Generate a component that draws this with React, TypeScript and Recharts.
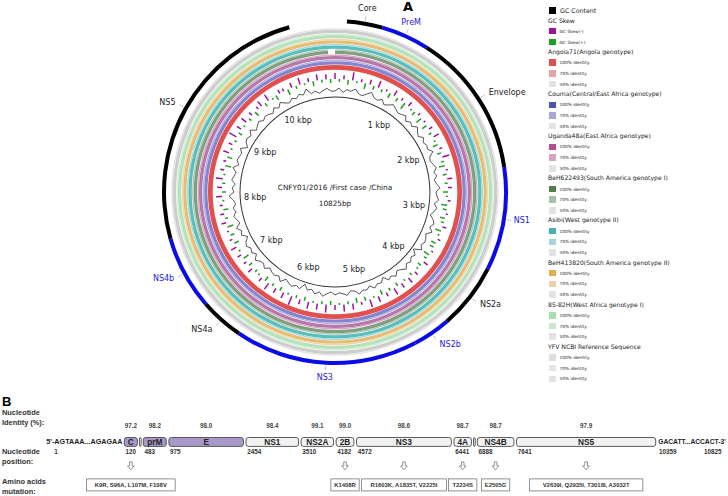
import React from "react";
import {
  PieChart,
  Pie,
  Cell,
  RadarChart,
  Radar,
  PolarAngleAxis,
  PolarRadiusAxis,
  BarChart,
  Bar,
  XAxis,
  YAxis,
} from "recharts";

// ---------- panel A data ----------
const GENOME_LEN = 10825;
const strainName = "CNFY01/2016 /First case /China";

const ringGenes = ["Core", "PreM", "Envelope", "NS1", "NS2a", "NS2b", "NS3", "NS4a", "NS4b", "NS5"];
const ringStarts = [120, 483, 975, 2454, 3510, 4182, 4572, 6441, 6888, 7641];
const ringEnd = 10359;
const rulerKbp = [1, 2, 3, 4, 5, 6, 7, 8, 9, 10];

const genomes = [
  "Angola71(Angola genotype)",
  "Couma(Central/East Africa genotype)",
  "Uganda48a(East Africa genotype)",
  "BeH622493(South America genotype I)",
  "Asibi(West genotype II)",
  "BeH413820(South America genotype II)",
  "85-82H(West Africa genotype I)",
  "YFV NCBI Reference Sequence",
];
const identityLevels = ["100% identity", "70% identity", "50% identity"];
// short window without a hit at the top of the BeH622493 ring
const beh622Gap = 10740;

// GC content deviation per window (drawn around a baseline)
const gcContent = [
  2, 5, 1, 4, 3, 6, 2, 1, 4, 7, 3, 2, 5, 1, 3, 6, 4, 2, 3, 5,
  1, 4, 2, 6, 3, 1, 5, 2, 4, 3, 7, 2, 1, 3, 5, 2, 4, 1, 3, 6,
  2, 3, 5, 1, 4, 2, -1, 3, 5, 2, 6, 1, 3, 4, 2, 5, -2, 3, 1, 4,
  2, 6, 3, 1, 5, 2, 4, -1, 3, 2, 5, 1, 4, 3, 6, 2, 1, 5, 3, 2,
  4, 1, 3, 6, 2, 5, 1, 3, -2, 4, 2, 5, 3, 1, 6, 2, 4, 3, 1, 5,
  2, 3, 6, 1, 4, 2, 5, 3, -1, 4, 2, 6, 1, 3, 5, 2, 4, 1, 3, 7,
  2, 4, 1, 5, 3, 2, 6, 1, 4, 3, 2, 5, -1, 3, 4, 2, 6, 1, 3, 5,
  2, 4, 3, 1, 5, 2, 6, 3, 1, 4, 2, 5, 3, 8, 2, 4, 1, 3, 5, 2,
];
// GC skew per window: + green (inward), - purple (outward)
const gcSkew = [
  -6, 3, -4, 5, -8, 2, -3, 6, -5, 4, -7, 3, -2, 5, -6, 4, -3, 7, -5, 2,
  4, -3, 6, -2, 5, -4, 3, -6, 2, 5, -3, 4, -7, 3, 6, -2, 4, -5, 3, -4,
  5, 2, -3, 6, 4, -2, 5, 3, -4, 6, 2, -3, 5, 4, -2, 6, 3, -5, 4, 2,
  -4, 3, -6, 2, -5, 4, -7, 3, -4, 5, -6, 2, -8, 4, -3, 5, -6, 3, -7, 2,
  -5, 4, -8, 3, -6, 2, -7, 4, -5, 3, -9, 2, -6, 4, -5, 3, -7, 5, -4, 2,
  3, -5, 4, -3, 6, -4, 2, -6, 5, -3, 4, -2, 6, -5, 3, -4, 5, -3, 2, -6,
  4, -5, 3, -7, 2, -4, 6, -3, 5, -6, 2, -4, 3, -8, 4, -5, 2, -6, 3, -4,
  5, -3, -6, 4, -7, 2, 5, -4, -3, 6, -5, 3, -7, 2, -4, 5, -6, 3, -5, 4,
];

// ---------- panel B data ----------
const segNames = ["5'UTR", "C", "anchC", "prM", "E", "NS1", "NS2A", "2B", "NS3", "4A", "2K", "NS4B", "NS5", "3'UTR"];
const segStarts = [0, 120, 420, 483, 975, 2454, 3510, 4182, 4572, 6441, 6826, 6888, 7641, 10359];
const boxGenes = ["C", "prM", "E", "NS1", "NS2A", "2B", "NS3", "4A", "NS4B", "NS5"];
const boxIdentity = [97.2, 98.2, 98.0, 98.4, 99.1, 99.0, 98.6, 98.7, 98.7, 97.9];
const structural = ["C", "prM", "E"];
const mutGenes = ["C", "2B", "NS3", "4A", "NS4B", "NS5"];
const mutLabels = [
  "K9R, S96A, L107M, F108V",
  "K1408R",
  "R1603K, A1835T, V2225I",
  "T2234S",
  "E2505G",
  "V2639I, Q2935I, T3018I, A3032T",
];
const utr5Seq = "5'-AGTAAA...AGAGAA";
const utr3Seq = "GACATT...ACCACT-3'";

// ---------- styles ----------
const CX = 335;
const CY = 192;
const RAD = Math.PI / 180;
const A_FONT = "DejaVu Sans";
const B_FONT = "Liberation Sans";
const BLUE = "#0b0be8";
const blueGenes = ["PreM", "NS1", "NS2b", "NS3", "NS4b"];
const ringStrong = ["#e24f4f", "#8585cf", "#b877a6", "#7f9f80", "#58bdbd", "#e6bd76", "#b3e2bb", "#cdcdcd"];
const ringLight = ["#e86d6d", "#b3b3e0", "#d3a9c6", "#b1c8b1", "#a3dada", "#f0d8ac", "#d2eed6", "#e4e4e4"];
const legend100 = ["#e05050", "#5052b4", "#b0508a", "#4e7d51", "#45b0b3", "#e2ae4a", "#a9dfb0", "#dedede"];
const legend70 = ["#e6a2a6", "#a7a6d6", "#d4a6c2", "#a9bfa9", "#a8d6d6", "#e8d1aa", "#cbe6cd", "#e6e6e6"];
const legend50 = "#e3e3e3";
const SKEW_BASE = 113;
const GC_BASE = 99;

const gcRows = gcContent.map((v, i) => ({ i, gc: v, skew: gcSkew[i] ?? 0 }));

const geneRingData = [
  { name: "", value: ringStarts[0] },
  ...ringGenes.map((g, i) => ({ name: g, value: (ringStarts[i + 1] ?? ringEnd) - ringStarts[i] })),
  { name: "", value: GENOME_LEN - ringEnd },
];
const geneRingColors = ["transparent", ...ringGenes.map((g) => (blueGenes.includes(g) ? BLUE : "#000")), "transparent"];

const rulerData = [
  { name: "", value: 500 },
  ...rulerKbp.map((k) => ({ name: `${k} kbp`, value: 1000 })),
  { name: "", value: GENOME_LEN - 10500 },
];

const polar = (cx: number, cy: number, r: number, midAngle: number) => {
  const t = (90 - midAngle) * RAD;
  return { x: cx + r * Math.sin(t), y: cy - r * Math.cos(t), s: Math.sin(t), c: Math.cos(t) };
};

const geneRingLabel = (p: any) => {
  const name = p.payload?.name ?? p.name;
  if (!name) return null;
  const probe = polar(p.cx, p.cy, 1, p.midAngle);
  const rT = 180 + 6 * Math.abs(probe.c);
  const t = polar(p.cx, p.cy, rT, p.midAngle);
  const l1 = polar(p.cx, p.cy, p.outerRadius + 1, p.midAngle);
  const l2 = polar(p.cx, p.cy, p.outerRadius + 5.5, p.midAngle);
  const anchor = probe.s > 0.5 ? "start" : probe.s < -0.5 ? "end" : "middle";
  const col = blueGenes.includes(name) ? "#2222dd" : "#222";
  return (
    <g>
      <line x1={l1.x} y1={l1.y} x2={l2.x} y2={l2.y} stroke="#999" strokeWidth={0.6} />
      <text x={t.x} y={t.y} textAnchor={anchor} dominantBaseline="central" fontSize={8} fontFamily={A_FONT} fill={col}>
        {name}
      </text>
    </g>
  );
};

const rulerLabel = (p: any) => {
  const name = p.payload?.name ?? p.name;
  if (!name) return null;
  const t = polar(p.cx, p.cy, 80, p.midAngle);
  return (
    <text x={t.x} y={t.y} textAnchor="middle" dominantBaseline="central" fontSize={8} fontFamily={A_FONT} fill="#222">
      {name}
    </text>
  );
};

const spikeShape = (color: string) => (props: any) => {
  const pts = props.points || [];
  const base = props.baseLinePoints || [];
  return (
    <g>
      {pts.map((pt: any, i: number) => {
        const b = base[i];
        if (!b || Math.abs(b.radius - pt.radius) < 0.2) return null;
        return <line key={i} x1={b.x} y1={b.y} x2={pt.x} y2={pt.y} stroke={color} strokeWidth={1.5} />;
      })}
    </g>
  );
};

function CircularMap() {
  const rings = genomes.map((g, i) => {
    const r0 = 122.3 + i * 5.25;
    const mid = i === 0 ? r0 + 4.75 : r0 + 3.3;
    const data =
      i === 3
        ? [{ name: "hit", value: beh622Gap }, { name: "gap", value: GENOME_LEN - beh622Gap }]
        : [{ name: "hit", value: GENOME_LEN }];
    return { r0, mid, data, i };
  });
  return (
    <PieChart width={545} height={395} margin={{ top: 0, right: 0, bottom: 0, left: 0 }}>
      <Pie
        data={rulerData}
        dataKey="value"
        cx={CX}
        cy={CY}
        innerRadius={94.4}
        outerRadius={95.4}
        startAngle={90}
        endAngle={-270}
        stroke="none"
        fill="#333"
        label={rulerLabel}
        labelLine={false}
        isAnimationActive={false}
      />
      {rings.map((r) => (
        <Pie
          key={`s${r.i}`}
          data={r.data}
          dataKey="value"
          cx={CX}
          cy={CY}
          innerRadius={r.r0}
          outerRadius={r.mid}
          startAngle={90}
          endAngle={-270}
          stroke="none"
          isAnimationActive={false}
        >
          {r.data.map((d, j) => (
            <Cell key={j} fill={d.name === "gap" ? "transparent" : ringStrong[r.i]} />
          ))}
        </Pie>
      ))}
      {rings
        .filter((r) => r.i > 0)
        .map((r) => (
          <Pie
            key={`l${r.i}`}
            data={r.data}
            dataKey="value"
            cx={CX}
            cy={CY}
            innerRadius={r.mid}
            outerRadius={r.r0 + 4.75}
            startAngle={90}
            endAngle={-270}
            stroke="none"
            isAnimationActive={false}
          >
            {r.data.map((d, j) => (
              <Cell key={j} fill={d.name === "gap" ? "transparent" : ringLight[r.i]} />
            ))}
          </Pie>
        ))}
      <Pie
        data={geneRingData}
        dataKey="value"
        cx={CX}
        cy={CY}
        innerRadius={169}
        outerRadius={173}
        startAngle={90}
        endAngle={-270}
        stroke="none"
        label={geneRingLabel}
        labelLine={false}
        isAnimationActive={false}
      >
        {geneRingData.map((d, i) => (
          <Cell key={i} fill={geneRingColors[i]} />
        ))}
      </Pie>
    </PieChart>
  );
}

function GcTracks() {
  return (
    <RadarChart
      width={545}
      height={395}
      cx={CX}
      cy={CY}
      innerRadius={0}
      outerRadius={130}
      data={gcRows}
      margin={{ top: 0, right: 0, bottom: 0, left: 0 }}
    >
      <PolarAngleAxis dataKey="i" tick={false} axisLine={false} tickLine={false} />
      <PolarRadiusAxis type="number" domain={[0, 130]} tick={false} axisLine={false} tickLine={false} />
      <Radar
        dataKey={(d: any) => [SKEW_BASE - Math.max(d.skew, 0), SKEW_BASE]}
        shape={spikeShape("#1f9e1f")}
        isAnimationActive={false}
      />
      <Radar
        dataKey={(d: any) => [SKEW_BASE, SKEW_BASE + Math.max(-d.skew, 0)]}
        shape={spikeShape("#9b139b")}
        isAnimationActive={false}
      />
      <Radar
        dataKey={(d: any) => GC_BASE + d.gc}
        stroke="#111"
        strokeWidth={0.7}
        fill="none"
        fillOpacity={0}
        dot={false}
        isAnimationActive={false}
      />
    </RadarChart>
  );
}

function LegendA() {
  const rows: React.ReactNode[] = [];
  const item = (key: string, y: number, color: string, label: string, big = false) => (
    <div key={key} style={{ position: "absolute", left: 549, top: y - 3.5, height: 7, display: "flex", alignItems: "center" }}>
      <div style={{ width: big ? 7 : 6.5, height: big ? 7 : 6.5, background: color }} />
      <span style={{ marginLeft: 4, fontSize: big ? 6.3 : 4.3, lineHeight: "7px", color: "#222", whiteSpace: "nowrap" }}>{label}</span>
    </div>
  );
  const header = (key: string, y: number, label: string) => (
    <div key={key} style={{ position: "absolute", left: 548, top: y - 4, fontSize: 6.1, lineHeight: "8px", color: "#222", whiteSpace: "nowrap" }}>
      {label}
    </div>
  );
  rows.push(item("gcc", 10, "#000", "GC Content", true));
  rows.push(header("gcs", 20.7, "GC Skew"));
  rows.push(item("gm", 31, "#9b139b", "GC Skew(-)"));
  rows.push(item("gp", 42, "#1f9e1f", "GC Skew(+)"));
  genomes.forEach((g, i) => {
    const y = 52 + i * 42.1;
    rows.push(header(`h${i}`, y, g));
    const cols = [legend100[i], legend70[i], legend50];
    identityLevels.forEach((lv, j) => rows.push(item(`i${i}${j}`, y + 10.7 * (j + 1), cols[j], lv)));
  });
  return <>{rows}</>;
}

// ---------- panel B ----------
const barRow: Record<string, any> = { row: "genome" };
segNames.forEach((n, i) => {
  barRow[n] = (segStarts[i + 1] ?? GENOME_LEN) - segStarts[i];
});

const renderSeg = (p: any, i: number) => {
  const { x, y, width, height } = p;
  const name = segNames[i];
  const bot = y + height;
  const common = { fontFamily: B_FONT, fontWeight: 700 } as const;
  if (name === "5'UTR") {
    return (
      <g>
        <text x={x + width - 0.5} y={y + height / 2} textAnchor="end" dominantBaseline="central" fontSize={7.2} fill="#222" {...common}>
          {utr5Seq}
        </text>
        <text x={x + width - 67} y={bot + 5} textAnchor="middle" dominantBaseline="central" fontSize={6.3} fill="#333" {...common}>
          1
        </text>
      </g>
    );
  }
  if (name === "3'UTR") {
    return (
      <g>
        <text x={x + 1.2} y={y + height / 2} dominantBaseline="central" fontSize={6.7} fill="#222" {...common}>
          {utr3Seq}
        </text>
        <text x={x + 2} y={bot + 5} dominantBaseline="central" fontSize={6.3} fill="#333" {...common}>
          {String(segStarts[i])}
        </text>
        <text x={x + 47} y={bot + 5} dominantBaseline="central" fontSize={6.3} fill="#333" {...common}>
          {String(GENOME_LEN)}
        </text>
      </g>
    );
  }
  const bi = boxGenes.indexOf(name);
  const small = bi < 0;
  const inset = small ? 0.8 : 1.3;
  const fill = small ? "#fff" : structural.includes(name) ? "#a999cb" : "#f2f2f2";
  const bx = x + inset;
  const bw = Math.max(width - 2 * inset, 1);
  const mid = x + width / 2;
  const mi = mutGenes.indexOf(name);
  const mutW = mi >= 0 ? mutLabels[mi].length * 3.55 + 7 : 0;
  return (
    <g>
      <rect x={bx} y={y + 0.5} width={bw} height={height - 1} rx={small ? 1.5 : 2.5} fill={fill} stroke="#4a4a4a" strokeWidth={0.9} />
      {!small && (
        <>
          <text x={mid} y={y + height / 2 + 0.5} textAnchor="middle" dominantBaseline="central" fontSize={8.3} fill="#222" {...common}>
            {name}
          </text>
          <text x={mid} y={y - 12} textAnchor="middle" dominantBaseline="central" fontSize={6.3} fill="#444" {...common}>
            {boxIdentity[bi].toFixed(1)}
          </text>
          <text x={x + 2.5} y={bot + 5} dominantBaseline="central" fontSize={6.3} fill="#333" {...common}>
            {String(segStarts[i])}
          </text>
        </>
      )}
      {mi >= 0 && (
        <>
          <path
            d={`M${mid - 1.3},${bot + 15} h2.6 v4 h2 l-3.3,4 l-3.3,-4 h2 z`}
            fill="#fff"
            stroke="#666"
            strokeWidth={0.7}
          />
          <rect x={mid - mutW / 2} y={bot + 32} width={mutW} height={12} fill="#fff" stroke="#777" strokeWidth={0.8} />
          <text x={mid} y={bot + 38.3} textAnchor="middle" dominantBaseline="central" fontSize={5.9} fill="#333" {...common}>
            {mutLabels[mi]}
          </text>
        </>
      )}
    </g>
  );
};

function GenomeBar() {
  const k = 534 / 10239;
  return (
    <BarChart
      width={728}
      height={84}
      data={[barRow]}
      layout="vertical"
      barSize={11}
      margin={{ top: 24, bottom: 49, left: 123 - 120 * k, right: 728 - (657 + (GENOME_LEN - ringEnd) * k) }}
    >
      <XAxis type="number" domain={[0, GENOME_LEN]} hide />
      <YAxis type="category" dataKey="row" hide />
      {segNames.map((n, i) => (
        <Bar key={n} dataKey={n} stackId="g" fill="#f2f2f2" shape={(p: any) => renderSeg(p, i)} isAnimationActive={false} />
      ))}
    </BarChart>
  );
}

const sideLabel = (top: number, lines: string[]) => (
  <div style={{ position: "absolute", left: 2, top, fontFamily: B_FONT, fontWeight: 700, fontSize: 7.4, lineHeight: "10px", color: "#333" }}>
    {lines.map((l) => (
      <div key={l}>{l}</div>
    ))}
  </div>
);

export default function App() {
  return (
    <div
      style={{
        position: "absolute",
        left: 0,
        top: 0,
        width: 728,
        height: 496,
        background: "#fff",
        overflow: "hidden",
        fontFamily: A_FONT,
      }}
    >
      <div style={{ position: "absolute", left: 0, top: 0 }}>
        <CircularMap />
      </div>
      <div style={{ position: "absolute", left: 0, top: 0 }}>
        <GcTracks />
      </div>
      <div style={{ position: "absolute", left: 403, top: 0, fontWeight: 700, fontSize: 13, lineHeight: "14px" }}>A</div>
      <div style={{ position: "absolute", left: CX - 100, top: CY - 9, width: 200, textAlign: "center", fontSize: 7.3, lineHeight: "10px", color: "#222" }}>
        {strainName}
      </div>
      <div style={{ position: "absolute", left: CX - 100, top: CY + 7, width: 200, textAlign: "center", fontSize: 7.3, lineHeight: "10px", color: "#222" }}>
        10825bp
      </div>
      <LegendA />

      <div style={{ position: "absolute", left: 2, top: 395, fontFamily: B_FONT, fontWeight: 700, fontSize: 13, lineHeight: "14px" }}>B</div>
      {sideLabel(408, ["Nucleotide", "Identity (%):"])}
      {sideLabel(447, ["Nucleotide", "position:"])}
      {sideLabel(477, ["Amino acids", "mutation:"])}
      <div style={{ position: "absolute", left: 0, top: 412 }}>
        <GenomeBar />
      </div>
    </div>
  );
}
